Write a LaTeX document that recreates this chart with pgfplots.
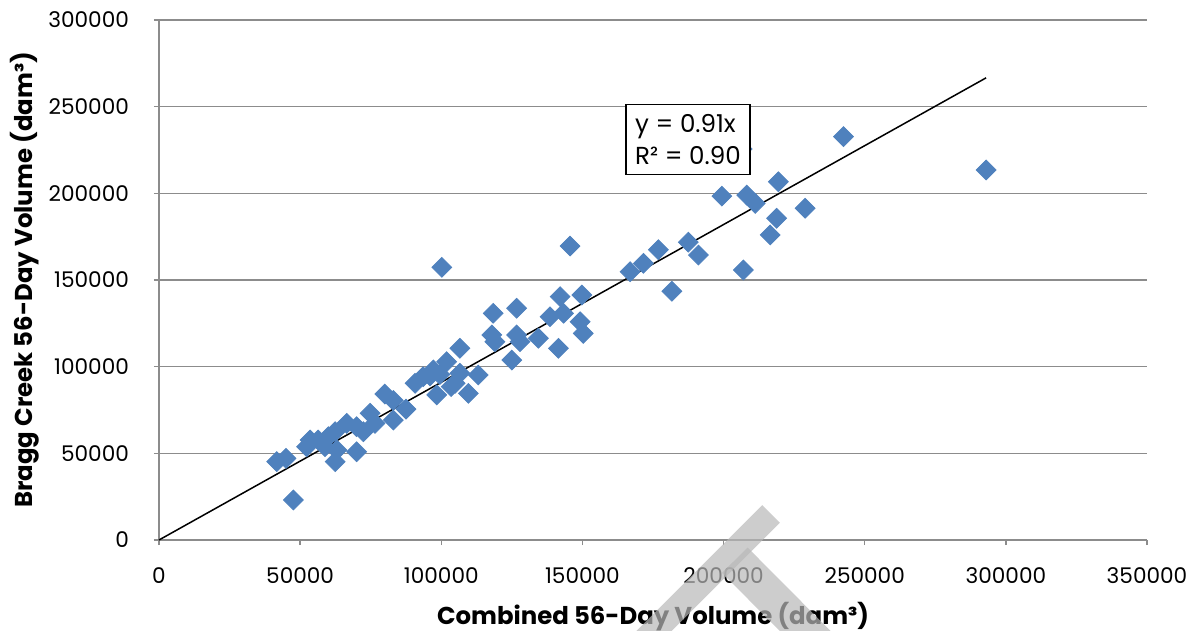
\documentclass[border=0pt]{standalone}
\usepackage{pgfplots}
\pgfplotsset{compat=1.18}
\usepackage{fontspec}
\setmainfont{Poppins}
\definecolor{markblue}{HTML}{4F81BD}
\definecolor{gridgray}{HTML}{8C8C8C}
\definecolor{wmgray}{gray}{0.72}

% Combined vs. Bragg Creek 56-day volumes (dam^3)
\pgfplotstableread{
x y
41700 45200
45000 47100
47600 23100
52300 53800
53500 57700
56400 57700
58800 53800
60000 59600
62400 62500
63000 51900
62400 45200
66500 67300
70000 50900
70000 65400
74800 73100
72400 62500
76500 67300
80000 84200
83000 69200
83000 80500
87500 75500
90700 90400
93600 94200
96000 94600
97200 98100
98400 83700
99500 95500
101900 102900
103500 88500
106600 110600
104900 90400
109600 84600
106600 96200
113100 95200
117900 118300
118400 130800
126700 133700
119000 114400
126700 118300
127900 114400
134400 116400
125000 103800
142100 140400
138500 128800
143300 130800
149800 141300
149200 125900
150300 119200
141500 110600
145600 169600
166900 154800
171600 159600
176900 167500
187500 171800
191100 164400
181700 143500
199400 198400
206600 225600
208200 199000
211200 194200
219400 206700
228900 191400
218800 185600
216500 176000
207000 155800
242500 232700
293000 213500
100200 157300
}\volumes

\begin{document}
\begin{tikzpicture}
\begin{axis}[
  scale only axis, width=494pt, height=260pt,
  at={(0,0)}, anchor=south west,
  xmin=0, xmax=350000, ymin=0, ymax=300000,
  xtick={0,50000,...,350000}, ytick={0,50000,...,300000},
  scaled ticks=false,
  /pgf/number format/fixed,
  /pgf/number format/1000 sep={},
  /pgf/number format/assume math mode=true,
  axis x line*=bottom, axis y line*=left,
  axis line style={gridgray, line width=0.75pt, -},
  ymajorgrids, grid style={gridgray, line width=0.75pt},
  tick style={gridgray, line width=0.75pt},
  tick align=outside, major tick length=2.5pt,
  tick label style={font=\fontsize{10.8}{12}\selectfont},
  xticklabel style={yshift=-8pt},
  yticklabel style={xshift=-9pt},
  xlabel={Combined 56-Day Volume (dam³)},
  ylabel={Bragg Creek 56-Day Volume (dam³)},
  label style={font=\fontsize{12.2}{14}\selectfont\bfseries},
  xlabel style={at={(axis description cs:0.5,0)}, anchor=center, yshift=-38.5pt},
  ylabel style={at={(axis description cs:0,0.5)}, anchor=center, yshift=67pt},
  clip=false,
]
\addplot[only marks, mark=square*, mark size=3.5pt,
  mark options={rotate=45, fill=markblue, draw=markblue}]
  table[x=x, y=y] {\volumes};
\addplot[black, line width=0.75pt, no marks] coordinates {(0,0) (293000,266630)};
\coordinate (eqbox) at (axis cs:187400,231000);
\end{axis}
% trendline equation box
\node[draw=black, line width=0.75pt, fill=white, align=left,
  inner xsep=4.5pt, inner ysep=5pt,
  font=\fontsize{12.3}{16}\selectfont]
  at (eqbox) {y = 0.91x\\R² = 0.90};
% watermark strokes
\begin{scope}[opacity=0.7]
\draw[wmgray, line width=12.5pt] (306pt,13pt) -- (240.5pt,-52.5pt);
\draw[wmgray, line width=18pt] (287.9pt,-10.1pt) -- (339pt,-61.5pt);
\end{scope}
\pgfresetboundingbox
\useasboundingbox (-79.5pt,-45.5pt) rectangle (519.5pt,270pt);
\end{tikzpicture}
\end{document}
